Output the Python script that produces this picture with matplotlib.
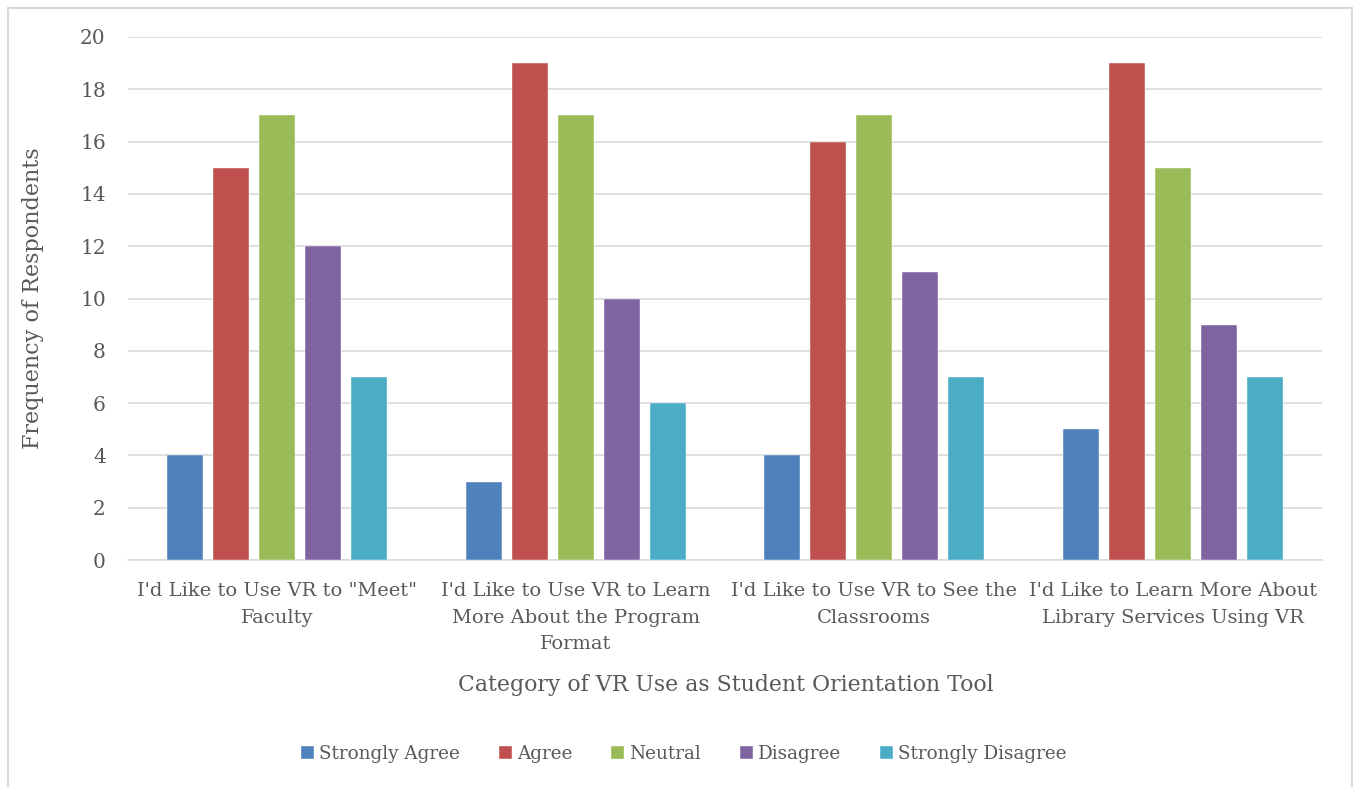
import matplotlib
matplotlib.use("Agg")
import matplotlib.pyplot as plt
import numpy as np
from matplotlib.patches import Rectangle

categories = ["I'd Like to Use VR to \"Meet\"\nFaculty",
              "I'd Like to Use VR to Learn\nMore About the Program\nFormat",
              "I'd Like to Use VR to See the\nClassrooms",
              "I'd Like to Learn More About\nLibrary Services Using VR"]
series_names = ["Strongly Agree", "Agree", "Neutral", "Disagree", "Strongly Disagree"]
strongly_agree = [4, 3, 4, 5]
agree = [15, 19, 16, 19]
neutral = [17, 17, 17, 15]
disagree = [12, 10, 11, 9]
strongly_disagree = [7, 6, 7, 7]
values = [strongly_agree, agree, neutral, disagree, strongly_disagree]
colors = ["#4F81BD", "#C0504D", "#9BBB59", "#8064A2", "#4BACC6"]
yticks = list(range(0, 21, 2))

plt.rcParams['font.family'] = ['DejaVu Serif']
text_color = "#595959"

fig = plt.figure(figsize=(13.53, 7.87), dpi=100)
W, H = 1353, 787
ax = fig.add_axes([128 / W, 1 - 560 / H, (1322 - 128) / W, (560 - 37) / H])

x = np.arange(len(categories))
bw = 0.12
step = 0.154
for i, (name, vals, c) in enumerate(zip(series_names, values, colors)):
    ax.bar(x + (i - 2) * step, vals, width=bw, color=c, label=name, zorder=3,
           edgecolor="white", linewidth=0.3)

ax.set_xlim(-0.5, len(categories) - 0.5)
ax.set_ylim(0, 20)
ax.set_yticks(yticks)
ax.set_yticklabels([str(t) for t in yticks], fontsize=14.5, color=text_color)
ax.set_xticks(x)
ax.set_xticklabels(categories, fontsize=14, color=text_color, linespacing=1.6)
ax.yaxis.grid(True, color="#D9D9D9", linewidth=1.2, zorder=0)
ax.tick_params(axis='y', length=0, pad=16)
ax.tick_params(axis='x', length=0, pad=16)
for s in ["top", "right", "left"]:
    ax.spines[s].set_visible(False)
ax.spines["bottom"].set_color("#D9D9D9")
ax.spines["bottom"].set_linewidth(1.2)

fig.text(33 / W, 1 - 298 / H, "Frequency of Respondents", rotation=90, fontsize=16,
         color=text_color, ha="center", va="center")
fig.text(726 / W, 1 - 685 / H, "Category of VR Use as Student Orientation Tool",
         fontsize=15.8, color=text_color, ha="center", va="center")

leg = fig.legend(loc="center", bbox_to_anchor=(684 / W, 1 - 754 / H), ncol=5,
                 frameon=False, fontsize=13.2, handlelength=0.7, handleheight=0.7,
                 handletextpad=0.3, columnspacing=2.1)
for t in leg.get_texts():
    t.set_color(text_color)

fig.patches.append(Rectangle((8 / W, -0.1), (1352 - 8) / W, 1 - 8 / H + 0.1,
                             transform=fig.transFigure, fill=False,
                             edgecolor="#D9D9D9", linewidth=1.5))

fig.savefig("out.png", dpi=100)
